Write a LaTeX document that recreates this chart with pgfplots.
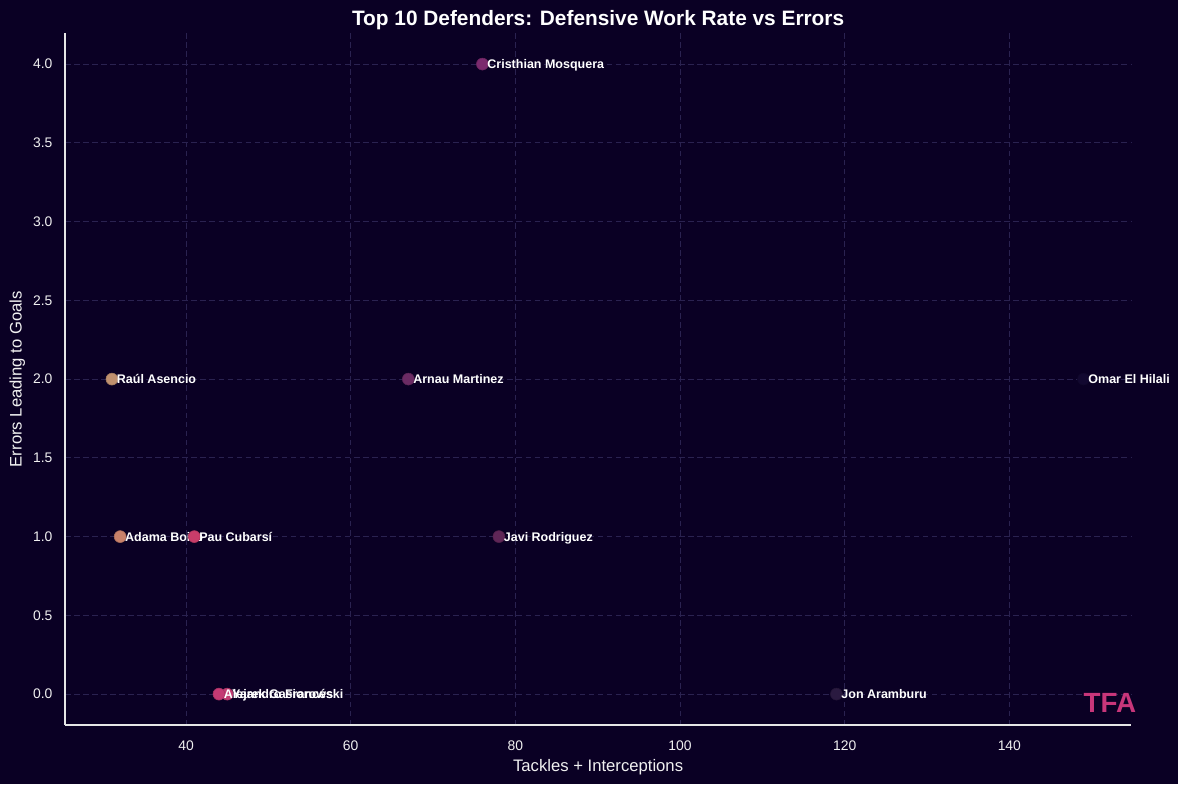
\documentclass[border=0pt]{standalone}
\usepackage{pgfplots}
\pgfplotsset{compat=1.18}
\usepackage{fontspec}
\setmainfont{Liberation Sans}

\definecolor{bg}{HTML}{0A0024}
\definecolor{gridc}{HTML}{2A2250}
\definecolor{spine}{HTML}{E6E6E6}
\definecolor{txt}{HTML}{F0F0F0}
\definecolor{logo}{HTML}{C8367A}
% marker colours
\definecolor{cAsencio}{HTML}{C0916F}
\definecolor{cBoiro}{HTML}{C8816A}
\definecolor{cCubarsi}{HTML}{C83D6A}
\definecolor{cGasiorowski}{HTML}{C13B72}
\definecolor{cFrances}{HTML}{C43A74}
\definecolor{cMosquera}{HTML}{7B2A6E}
\definecolor{cMartinez}{HTML}{6B2B64}
\definecolor{cRodriguez}{HTML}{5F2657}
\definecolor{cAramburu}{HTML}{2A1A40}
\definecolor{cHilali}{HTML}{120830}

% one defender: colour, x, y, name
\newcommand{\player}[4]{%
  \addplot[only marks, mark=*, mark size=4.3pt,
    mark options={fill=#1, draw=#1!85!black, line width=0.4pt},
    nodes near coords={#4},
    every node near coord/.append style={anchor=base west, xshift=3.4pt, yshift=-3.2pt,
      inner sep=0pt, font=\fontsize{9}{10}\selectfont\bfseries, text=white}]
    coordinates {(#2,#3)};}

\begin{document}
\begin{tikzpicture}
\fill[bg] (0,0) rectangle (848pt,564.5pt);
\useasboundingbox (0,0) rectangle (848pt,564.5pt);
\begin{axis}[
  at={(46.8pt,42.5pt)}, anchor=south west,
  scale only axis, width=767.5pt, height=498.2pt,
  xmin=25.3, xmax=154.8, ymin=-0.197, ymax=4.197,
  xtick={40,60,80,100,120,140},
  ytick={0,0.5,1,1.5,2,2.5,3,3.5,4},
  yticklabel style={/pgf/number format/fixed, /pgf/number format/fixed zerofill,
    /pgf/number format/precision=1, xshift=-5.5pt},
  /pgf/number format/assume math mode=true,
  tick label style={font=\fontsize{10}{12}\selectfont, text=txt},
  major tick length=0pt,
  xticklabel style={yshift=-8pt},
  axis x line*=bottom, axis y line*=left,
  axis line style={draw=spine, line width=1.2pt, -},
  grid=major,
  major grid style={draw=gridc, dash pattern=on 4pt off 2.5pt, line width=0.6pt},
  xlabel={Tackles + Interceptions},
  ylabel={Errors Leading to Goals},
  label style={font=\fontsize{12}{14}\selectfont, text=txt},
  xlabel style={yshift=1pt},
  ylabel style={yshift=-1pt},
  title={Top 10 Defenders: Defensive Work Rate vs Errors},
  title style={font=\fontsize{15}{17}\selectfont\bfseries, text=white, yshift=-7pt},
  clip=false,
]
\player{cAsencio}{31}{2}{Raúl Asencio}
\player{cBoiro}{32}{1}{Adama Boiro}
\player{cCubarsi}{41}{1}{Pau Cubarsí}
\player{cGasiorowski}{45}{0}{Yarek Gasiorowski}
\player{cFrances}{44}{0}{Alejandro Francés}
\player{cMosquera}{76}{4}{Cristhian Mosquera}
\player{cMartinez}{67}{2}{Arnau Martinez}
\player{cRodriguez}{78}{1}{Javi Rodriguez}
\player{cAramburu}{119}{0}{Jon Aramburu}
\player{cHilali}{149}{2}{Omar El Hilali}
\node[text=logo, font=\fontsize{20}{22}\selectfont\bfseries, anchor=center]
  at (rel axis cs:0.980,0.032) {TFA};
\end{axis}
\end{tikzpicture}
\end{document}
